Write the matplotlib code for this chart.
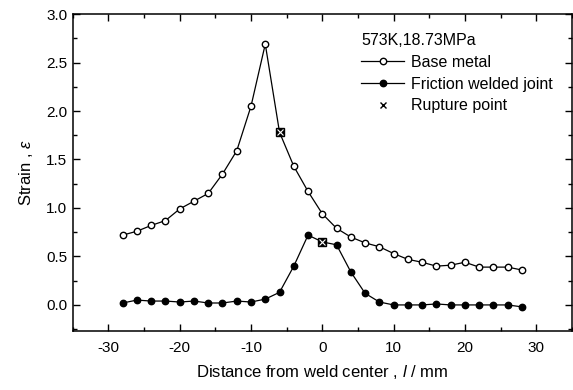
import matplotlib
matplotlib.use("Agg")
import matplotlib.pyplot as plt
from matplotlib.ticker import MultipleLocator, FormatStrFormatter

plt.rcParams['font.family'] = ['Liberation Sans', 'DejaVu Sans']
plt.rcParams['mathtext.fontset'] = 'custom'
plt.rcParams['mathtext.rm'] = 'Liberation Sans'
plt.rcParams['mathtext.it'] = 'Liberation Sans:italic'
plt.rcParams['axes.unicode_minus'] = False

# distance from weld center (mm)
distance = [-28, -26, -24, -22, -20, -18, -16, -14, -12, -10, -8, -6, -4, -2,
            0, 2, 4, 6, 8, 10, 12, 14, 16, 18, 20, 22, 24, 26, 28]

base_metal = [0.72, 0.76, 0.82, 0.87, 0.99, 1.07, 1.15, 1.35, 1.59, 2.05, 2.69,
              1.78, 1.43, 1.17, 0.94, 0.79, 0.70, 0.64, 0.60, 0.53, 0.47,
              0.44, 0.40, 0.41, 0.44, 0.39, 0.39, 0.39, 0.36]

friction_joint = [0.02, 0.05, 0.04, 0.04, 0.03, 0.04, 0.02, 0.02, 0.04, 0.03,
                  0.06, 0.13, 0.40, 0.72, 0.65, 0.62, 0.34, 0.12, 0.03, 0.00,
                  0.00, 0.00, 0.01, 0.00, 0.00, 0.00, 0.00, 0.00, -0.02]

rupture_x = [-6, 0]
rupture_y = [1.78, 0.65]

fig = plt.figure(figsize=(5.73, 3.90), dpi=100)
ax = fig.add_axes([0.127, 0.151, 0.871, 0.813])

ax.plot(distance, base_metal, color='black', lw=0.9, marker='o', ms=4.6,
        mfc='white', mec='black', mew=1.0, label='Base metal')
ax.plot(distance, friction_joint, color='black', lw=0.9, marker='o', ms=4.6,
        mfc='black', mec='black', label='Friction welded joint')
# rupture points: dark square with cross on top of the series marker
ax.plot(rupture_x, rupture_y, ls='none', marker='s', ms=5.2, mfc='black',
        mec='black', zorder=3)
ax.plot(rupture_x, rupture_y, ls='none', marker='x', ms=3.8, mec='white',
        mew=0.8, zorder=4)
ax.plot([], [], ls='none', marker='x', ms=5, mec='black', mew=1.0,
        label='Rupture point')

ax.set_xlim(-35, 35)
ax.set_ylim(-0.27, 3.0)
ax.xaxis.set_major_locator(MultipleLocator(10))
ax.xaxis.set_minor_locator(MultipleLocator(5))
ax.yaxis.set_major_locator(MultipleLocator(0.5))
ax.yaxis.set_minor_locator(MultipleLocator(0.25))
ax.yaxis.set_major_formatter(FormatStrFormatter('%.1f'))
ax.tick_params(which='both', direction='in', top=True, right=True,
               labelsize=11, width=1.0)
ax.tick_params(which='major', length=5)
ax.tick_params(which='minor', length=3)
ax.tick_params(axis='x', which='major', pad=7)
ax.tick_params(axis='y', which='major', pad=4)
for s in ax.spines.values():
    s.set_linewidth(1.1)

ax.set_xlabel('Distance from weld center , $\\it{l}$ / mm', fontsize=12,
              labelpad=6)
ax.set_ylabel('Strain , $\\varepsilon$', fontsize=12, labelpad=8)

leg = ax.legend(loc='upper left', bbox_to_anchor=(0.565, 0.96),
                frameon=False, title='573K,18.73MPa', alignment='left',
                fontsize=11.5, title_fontsize=11.5, handlelength=2.7,
                handletextpad=0.45, labelspacing=0.42, borderaxespad=0)

fig.savefig('out.png', dpi=100)
